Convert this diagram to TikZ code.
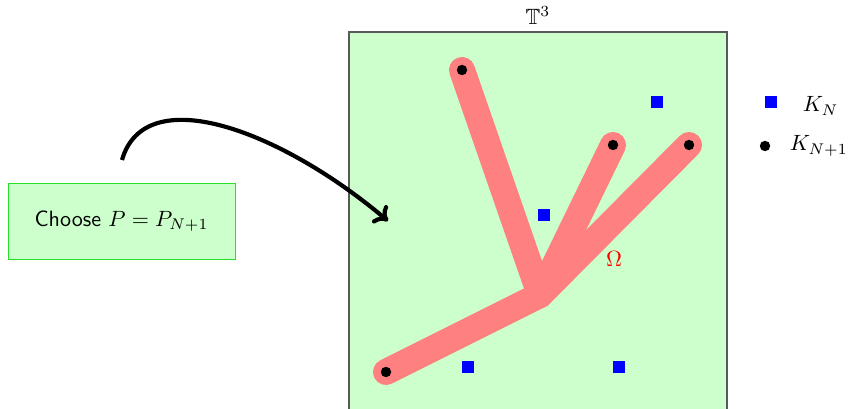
\documentclass[tikz,border=0pt]{standalone}
\usepackage{amssymb}
\usetikzlibrary{arrows.meta}
\definecolor{boxgreen}{RGB}{40,225,40}
\begin{document}
\begin{tikzpicture}[x=0.48pt,y=-0.48pt,
  txt/.style={scale=1.06},
  kdot/.style={circle,fill=black,inner sep=0pt,minimum size=5pt},
  ksq/.style={rectangle,fill=blue,inner sep=0pt,minimum size=5.8pt},
  branch/.style={line width=12.5pt,red!50,line cap=round}]
\useasboundingbox (0,0) rectangle (849,409);
% torus box
\draw[fill=green!20,draw=black!65,line width=0.6pt] (349,32) rectangle (727,412);
\node[txt] (T) at (538,16) {$\mathbb{T}^3$};
% tree
\coordinate (c) at (540,295);
\coordinate (p1) at (462,70);
\coordinate (p2) at (613,145);
\coordinate (p3) at (689,145);
\coordinate (p4) at (386,372);
\draw[branch] (p4) -- (c) -- (p3);
\draw[branch] (p1) -- (c);
\draw[branch] (p2) -- (c);
\node[kdot] (d1) at (p1) {};
\node[kdot] (d2) at (p2) {};
\node[kdot] (d3) at (p3) {};
\node[kdot] (d4) at (p4) {};
\node[ksq] (s1) at (657,102) {};
\node[ksq] (s2) at (544,215) {};
\node[ksq] (s3) at (468,367) {};
\node[ksq] (s4) at (619,367) {};
\node[txt,text=red] (om) at (614,259) {$\Omega$};
% legend
\node[ksq] (ls) at (771,102) {};
\node[kdot] (ld) at (765,146) {};
\node[txt,anchor=west] (lk1) at (795,106) {$K_N$};
\node[txt,anchor=west] (lk2) at (782,146) {$K_{N+1}$};
% choose box
\node[draw=boxgreen,fill=green!20,line width=0.45pt,minimum width=227*0.48pt,minimum height=76*0.48pt,inner sep=0pt] (ch) at (121.5,221) {};
\node[txt] (cht) at (ch.center) {\textsf{Choose} $P=P_{N+1}$};
\coordinate (a0) at (122,160);
\coordinate (a1) at (388,221);
\draw[line width=2pt,-{To[length=6pt,width=11pt]}] (a0) .. controls (145,80) and (280,130) .. (a1);
\end{tikzpicture}
\end{document}
